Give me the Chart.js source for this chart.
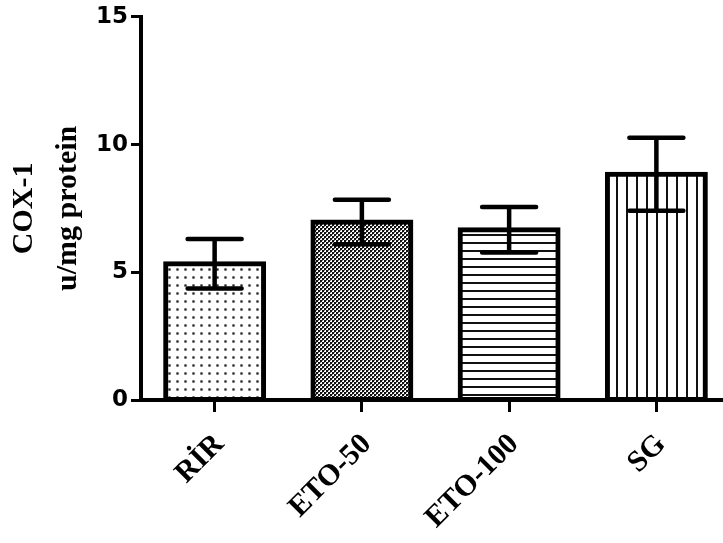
<!DOCTYPE html>
<html>
<head>
<meta charset="utf-8">
<script src="https://cdn.jsdelivr.net/npm/chart.js@4/dist/chart.umd.min.js"></script>
<style>
  html, body { margin: 0; padding: 0; background: #fff; overflow: hidden; }
  #wrap { position: relative; width: 723px; height: 543px; overflow: hidden; }
  #chart { position: absolute; left: 0; top: 0; }
</style>
</head>
<body>
<div id="wrap"><canvas id="chart" width="740" height="543"></canvas></div>
<script>
// Groups and their COX-1 activity (u/mg protein), mean and SEM
const groups = ['RİR', 'ETO-50', 'ETO-100', 'SG'];
const means = [5.33, 6.97, 6.66, 8.84];
const sems = [0.97, 0.87, 0.89, 1.43];
const yTicks = [0, 5, 10, 15];

// Fill patterns for the bars
function makePattern(w, h, paint) {
  const c = document.createElement('canvas');
  c.width = w; c.height = h;
  const g = c.getContext('2d');
  g.fillStyle = '#fff';
  g.fillRect(0, 0, w, h);
  paint(g);
  return g.createPattern(c, 'repeat');
}
const ctx = document.getElementById('chart').getContext('2d');
const dots = makePattern(8, 8, g => {
  g.fillStyle = '#a8a8a8';
  g.fillRect(0, 4, 3, 3);
  g.fillStyle = '#2a2a2a';
  g.fillRect(1, 5, 1, 1);
  g.fillStyle = '#666';
  g.fillRect(0, 5, 1, 1); g.fillRect(2, 5, 1, 1); g.fillRect(1, 4, 1, 1); g.fillRect(1, 6, 1, 1);
});
const checker = makePattern(4, 4, g => {
  g.fillStyle = '#111';
  g.fillRect(0, 0, 2, 2);
  g.fillRect(2, 2, 2, 2);
  g.fillStyle = '#777';
  g.fillRect(2, 0, 1, 1);
  g.fillRect(0, 2, 1, 1);
});
const hLines = makePattern(8, 8, g => {
  g.fillStyle = '#111';
  g.fillRect(0, 2, 8, 2);
});
const vLines = makePattern(10, 10, g => {
  g.fillStyle = '#111';
  g.fillRect(6, 0, 2, 10);
});

// Error bars (mean ± SEM) drawn on top of the bars
const errorBars = {
  id: 'errorBars',
  afterDatasetsDraw(chart) {
    const y = chart.scales.y;
    const meta = chart.getDatasetMeta(0);
    const c = chart.ctx;
    c.save();
    c.strokeStyle = '#000';
    c.lineWidth = 4.5;
    c.lineCap = 'round';
    meta.data.forEach((bar, i) => {
      const x = bar.x;
      const top = y.getPixelForValue(means[i] + sems[i]);
      const bot = y.getPixelForValue(means[i] - sems[i]);
      const half = 27;
      c.beginPath();
      c.moveTo(x, top); c.lineTo(x, bot);
      c.moveTo(x - half, top); c.lineTo(x + half, top);
      c.moveTo(x - half, bot); c.lineTo(x + half, bot);
      c.stroke();
    });
    c.restore();
  }
};

new Chart(ctx, {
  type: 'bar',
  data: {
    labels: groups,
    datasets: [{
      data: means,
      backgroundColor: [dots, checker, hLines, vLines],
      borderColor: '#000',
      borderWidth: 5,
      borderSkipped: false,
      inflateAmount: 2.5,
      categoryPercentage: 1.0,
      barPercentage: 0.665
    }]
  },
  options: {
    responsive: false,
    animation: false,
    events: [],
    layout: { padding: { left: 0, top: 15, right: 10, bottom: 0 } },
    plugins: { legend: { display: false }, tooltip: { enabled: false } },
    scales: {
      x: {
        afterFit(s) { s.height = 143; },
        grid: { display: true, offset: false, drawOnChartArea: false, drawTicks: true, tickLength: 12, tickWidth: 3, tickColor: '#000' },
        border: { display: true, color: '#000', width: 4 },
        ticks: {
          color: '#000',
          autoSkip: false,
          minRotation: 45,
          maxRotation: 45,
          padding: 15,
          labelOffset: 5,
          font: { family: '"Liberation Serif", "Times New Roman", serif', size: 30, weight: 'bold' }
        }
      },
      y: {
        min: 0,
        max: 15,
        afterFit(s) { s.width = 141; },
        afterBuildTicks(s) { s.ticks = yTicks.map(v => ({ value: v })); },
        grid: { display: true, drawOnChartArea: false, drawTicks: true, tickLength: 10, tickWidth: 3, tickColor: '#000' },
        border: { display: true, color: '#000', width: 4 },
        ticks: {
          color: '#000',
          padding: 3,
          font: { family: '"DejaVu Sans", Arial, sans-serif', size: 23, weight: 'bold' }
        },
        title: {
          display: true,
          text: ['COX-1', 'u/mg protein'],
          color: '#000',
          padding: { top: 2, bottom: 0 },
          font: { family: '"Liberation Serif", "Times New Roman", serif', size: 30, weight: 'bold', lineHeight: 1.48 }
        }
      }
    }
  },
  plugins: [errorBars]
});
</script>
</body>
</html>
